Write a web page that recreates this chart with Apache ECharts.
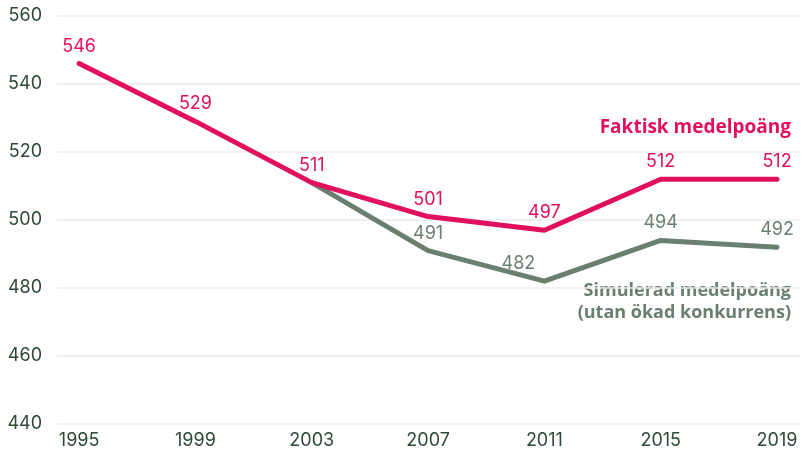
<!DOCTYPE html>
<html>
<head>
<meta charset="utf-8">
<script src="https://cdn.jsdelivr.net/npm/echarts@6/dist/echarts.min.js"></script>
<style>
  html, body { margin: 0; padding: 0; background: #fff; }
  #chart { width: 802px; height: 455px; }
</style>
</head>
<body>
<div id="chart"></div>
<script>
// Survey years and average scores
const years = [1995, 1999, 2003, 2007, 2011, 2015, 2019];
const faktisk = [546, 529, 511, 501, 497, 512, 512];
const simulerad = [null, null, 511, 491, 482, 494, 492];
const yTicks = [440, 460, 480, 500, 520, 540, 560];
const faktiskName = 'Faktisk medelpoäng';
const simuleradName = ['Simulerad medelpoäng', '(utan ökad konkurrens)'];

const PINK = '#e0105f';
const GREY = '#6a7f70';
const AXIS_TEXT = '#2c4a36';
const FONT = 'Inter, "Noto Sans", sans-serif';
const TITLE_FONT = '"Open Sans", "Noto Sans", sans-serif';

const chart = echarts.init(document.getElementById('chart'), null, { renderer: 'canvas' });

const pinkData = years.map((y, i) => [y, faktisk[i]]);
const greyData = years
  .map((y, i) => (simulerad[i] == null ? null : { value: [y, simulerad[i]], idx: i }))
  .filter(Boolean)
  .map(d => {
    const item = { value: d.value };
    if (d.idx === 2) item.label = { show: false };
    if (d.idx === 4) item.label = { offset: [-26, 0] };
    return item;
  });

chart.setOption({
  animation: false,
  grid: { left: 57, right: 2, top: 16, bottom: 31 },
  xAxis: {
    type: 'value',
    min: 1994.24,
    max: 2019.79,
    axisLine: { show: false },
    axisTick: { show: false },
    splitLine: { show: false },
    axisLabel: {
      customValues: years,
      formatter: v => String(v),
      color: AXIS_TEXT,
      fontFamily: FONT,
      fontSize: 18,
      margin: 8
    }
  },
  yAxis: {
    type: 'value',
    min: yTicks[0],
    max: yTicks[yTicks.length - 1],
    interval: 20,
    axisLine: { show: false },
    axisTick: { show: false },
    axisLabel: {
      color: AXIS_TEXT,
      fontFamily: FONT,
      fontSize: 18,
      margin: 15
    },
    splitLine: { lineStyle: { color: '#ebebeb', width: 1.5 } }
  },
  series: [
    {
      name: 'Simulerad',
      type: 'line',
      data: greyData,
      symbol: 'circle',
      symbolSize: 1,
      itemStyle: { color: GREY },
      lineStyle: { color: GREY, width: 5, cap: 'round', join: 'round' },
      label: {
        show: true,
        position: 'top',
        distance: 8,
        color: GREY,
        fontFamily: FONT,
        fontSize: 18
      },
      z: 2
    },
    {
      name: 'Faktisk',
      type: 'line',
      data: pinkData,
      symbol: 'circle',
      symbolSize: 1,
      itemStyle: { color: PINK },
      lineStyle: { color: PINK, width: 5, cap: 'round', join: 'round' },
      label: {
        show: true,
        position: 'top',
        distance: 8,
        color: PINK,
        fontFamily: FONT,
        fontSize: 18
      },
      z: 3
    }
  ],
  graphic: [
    {
      type: 'text',
      right: 11,
      top: 118,
      style: {
        text: faktiskName,
        fill: PINK,
        font: 'bold 19px ' + TITLE_FONT,
        textAlign: 'right'
      }
    },
    {
      type: 'text',
      right: 11,
      top: 280,
      style: {
        text: simuleradName.join('\n'),
        fill: GREY,
        font: 'bold 18px ' + TITLE_FONT,
        lineHeight: 22,
        textAlign: 'right'
      }
    }
  ]
});
</script>
</body>
</html>
